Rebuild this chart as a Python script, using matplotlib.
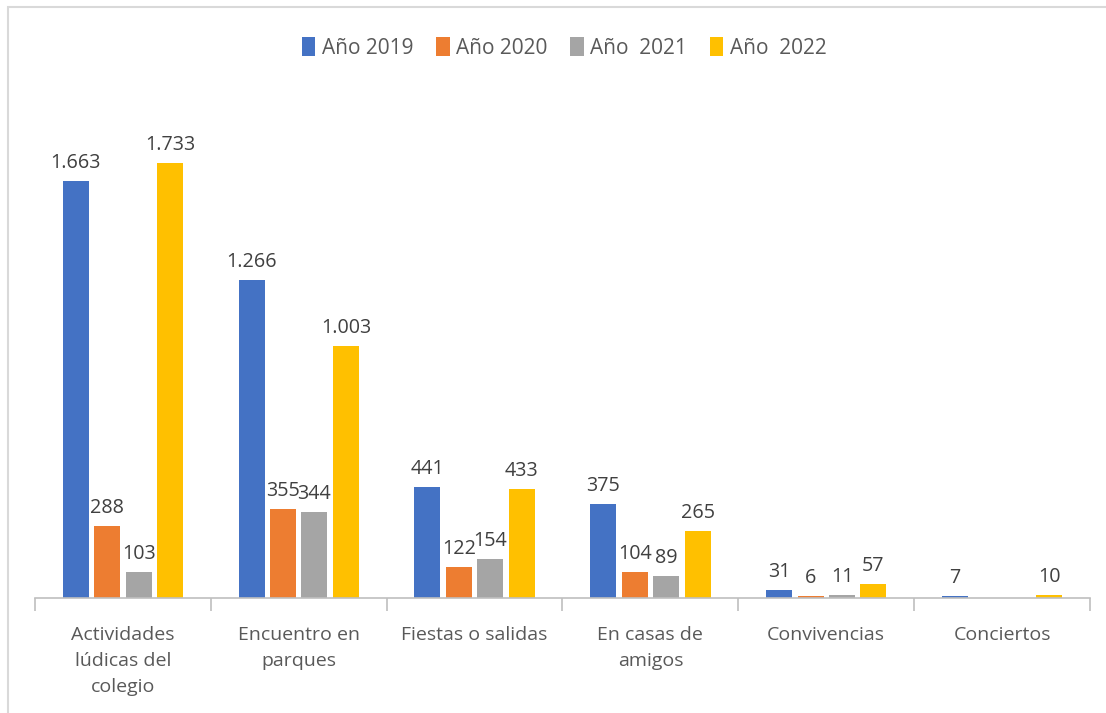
import numpy as np
import matplotlib.pyplot as plt
from matplotlib.patches import Rectangle

# Data
categories = ["Actividades\nlúdicas del\ncolegio", "Encuentro en\nparques", "Fiestas o salidas",
              "En casas de\namigos", "Convivencias", "Conciertos"]
series_names = ["Año 2019", "Año 2020", "Año  2021", "Año  2022"]
v2019 = [1663, 1266, 441, 375, 31, 7]
v2020 = [288, 355, 122, 104, 6, 0]
v2021 = [103, 344, 154, 89, 11, 0]
v2022 = [1733, 1003, 433, 265, 57, 10]
colors = ["#4472C4", "#ED7D31", "#A5A5A5", "#FFC000"]

plt.rcParams['font.family'] = ['Open Sans', 'DejaVu Sans']
text_color = "#404040"

fig = plt.figure(figsize=(11.06, 7.13), dpi=100)
W, H = 1106, 713

# chart frame
fig.patches.append(Rectangle((8 / W, -0.01), 1.1, 1 - 7 / H + 0.01, transform=fig.transFigure,
                             fill=False, edgecolor="#D9D9D9", linewidth=1.5))

ax = fig.add_axes([35 / W, 1 - 598 / H, (1090 - 35) / W, (598 - 100) / H])

x = np.arange(len(categories))
width = 0.148
step = 0.179
all_series = [v2019, v2020, v2021, v2022]
for i, (vals, name, c) in enumerate(zip(all_series, series_names, colors)):
    pos = x + (i - 1.5) * step
    ax.bar(pos, vals, width, color=c, label=name)
    for p, v in zip(pos, vals):
        if v == 0:
            continue
        ax.text(p, v + 32, f"{v:,}".replace(",", "."), ha="center", va="bottom",
                fontsize=14.2, color=text_color)

ax.set_xlim(-0.5, len(categories) - 0.5)
ax.set_ylim(0, (598 - 100) / 0.251)
ax.set_yticks([])
for s in ["top", "right", "left"]:
    ax.spines[s].set_visible(False)
ax.spines["bottom"].set_color("#BFBFBF")
ax.spines["bottom"].set_linewidth(1.2)

ax.set_xticks(np.arange(-0.5, len(categories)))
ax.set_xticklabels([])
ax.tick_params(axis="x", length=9, color="#BFBFBF", width=1.2)
for xi, lab in zip(x, categories):
    ax.text(xi, -110, lab, ha="center", va="top", fontsize=14, color="#595959",
            linespacing=1.6)

fig.legend(loc="center", bbox_to_anchor=(0.51, 1 - 48 / H), ncol=4, frameon=False,
           fontsize=15, handlelength=0.65, handleheight=1.0, handletextpad=0.3,
           columnspacing=1.1, labelcolor="#595959")

fig.savefig("out.png", dpi=100)
